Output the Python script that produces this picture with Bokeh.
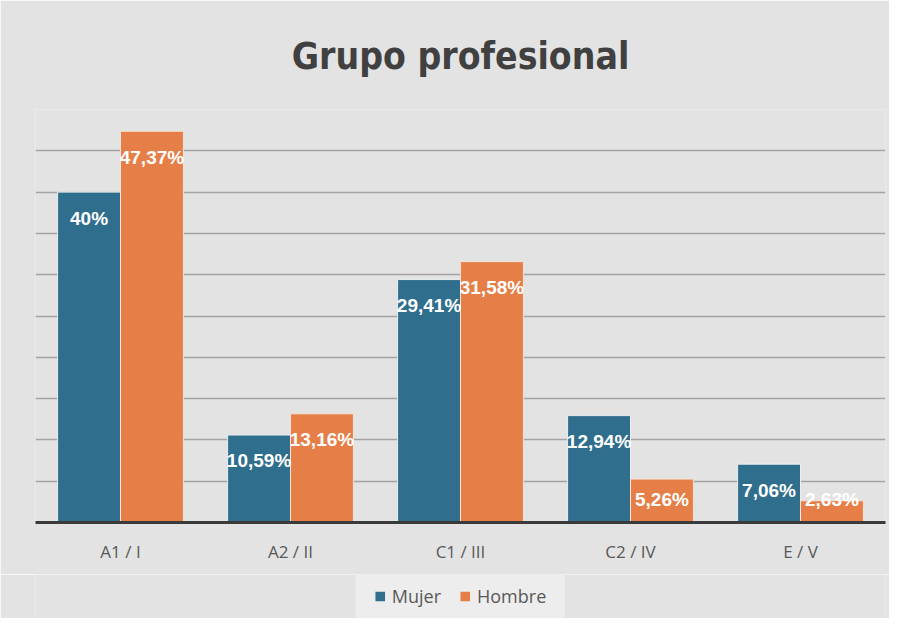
from bokeh.plotting import figure
from bokeh.layouts import column
from bokeh.models import (ColumnDataSource, FactorRange, Range1d, FixedTicker,
                          Legend, LegendItem)
from bokeh.transform import dodge
from bokeh.core.properties import value
from bokeh.embed import file_html
from bokeh.resources import INLINE

categories = ["A1 / I", "A2 / II", "C1 / III", "C2 / IV", "E / V"]
series = ["Mujer", "Hombre"]
mujer = [40.0, 10.59, 29.41, 12.94, 7.06]
hombre = [47.37, 13.16, 31.58, 5.26, 2.63]
grid_ticks = [5, 10, 15, 20, 25, 30, 35, 40, 45, 50]

C_M = "#2f6e8d"
C_H = "#e57f47"
BG = "#e3e3e3"
LEG_BG = "#ededed"


def fmt(v):
    s = f"{v:.2f}".rstrip("0").rstrip(".")
    return s.replace(".", ",") + "%"


# label placement: inside end of bar, but kept above the axis
def label_y(v):
    return max(v - 3.14, 2.78)


src = ColumnDataSource(dict(
    cat=categories, mujer=mujer, hombre=hombre,
    ml=[fmt(v) for v in mujer], hl=[fmt(v) for v in hombre],
    my=[label_y(v) for v in mujer], hy=[label_y(v) for v in hombre]))

W = 889
p = figure(width=W, height=574, x_range=FactorRange(*categories),
           y_range=Range1d(0, 50), output_backend="svg", toolbar_location=None,
           min_border_left=35, min_border_right=4, min_border_top=108,
           min_border_bottom=52)
p.background_fill_color = BG
p.border_fill_color = BG
p.outline_line_color = None

p.title.text = "Grupo profesional"
p.title.text_font = "'DejaVu Sans Condensed', Roboto, sans-serif"
p.title.text_font_size = "37px"
p.title.text_font_style = "bold"
p.title.text_color = "#404040"
p.title.align = "center"
p.title.standoff = 64

w = 0.37
r1 = p.vbar(x=dodge("cat", -w / 2, range=p.x_range), top="mujer", width=w,
            source=src, fill_color=C_M, line_color="#e8eef2", line_width=1)
r2 = p.vbar(x=dodge("cat", w / 2, range=p.x_range), top="hombre", width=w,
            source=src, fill_color=C_H, line_color="#f6e4d8", line_width=1)

for ycol, lab, off in (("my", "ml", -w / 2), ("hy", "hl", w / 2)):
    p.text(x=dodge("cat", off, range=p.x_range), y=ycol, text=lab, source=src,
           text_color="white", text_font=value("Liberation Sans"),
           text_font_size="19px", text_font_style="bold",
           text_align="center", text_baseline="middle")

p.yaxis.visible = False
p.ygrid.ticker = FixedTicker(ticks=grid_ticks)
p.ygrid.grid_line_color = "#a3a3a3"
p.ygrid.grid_line_width = 1.5
p.xgrid.grid_line_color = None

ax = p.xaxis[0]
ax.axis_line_color = "#3a3a3a"
ax.axis_line_width = 3
ax.major_tick_line_color = None
ax.minor_tick_line_color = None
ax.major_label_text_font = "Open Sans"
ax.major_label_text_font_size = "17px"
ax.major_label_text_color = "#595959"
ax.major_label_standoff = 11

# legend strip below the chart (its bars lie outside its visible y range)
q = figure(width=W, height=44, output_backend="svg", toolbar_location=None,
           min_border_left=35, min_border_right=4, min_border_top=0,
           min_border_bottom=0, x_range=FactorRange(*categories),
           y_range=Range1d(100, 101))
q.background_fill_color = BG
q.border_fill_color = BG
q.outline_line_color = None
q.axis.visible = False
q.grid.grid_line_color = None
g1 = q.vbar(x="cat", top="mujer", width=0.3, source=src, fill_color=C_M,
            line_color=None)
g2 = q.vbar(x="cat", top="hombre", width=0.3, source=src, fill_color=C_H,
            line_color=None)

legend = Legend(items=[LegendItem(label=series[0], renderers=[g1]),
                       LegendItem(label=series[1], renderers=[g2])],
                orientation="horizontal", location="center")
legend.label_text_font = "Open Sans"
legend.label_text_font_size = "18px"
legend.label_text_color = "#595959"
legend.label_standoff = 6
legend.label_height = 22
legend.background_fill_color = LEG_BG
legend.background_fill_alpha = 1
legend.border_line_color = LEG_BG
legend.border_line_width = 8
legend.glyph_width = 12
legend.glyph_height = 12
legend.spacing = 18
legend.padding = 10
legend.margin = 0
q.add_layout(legend, "center")

layout = column(p, q, spacing=0)
open("out.html", "w").write(file_html(layout, INLINE))
